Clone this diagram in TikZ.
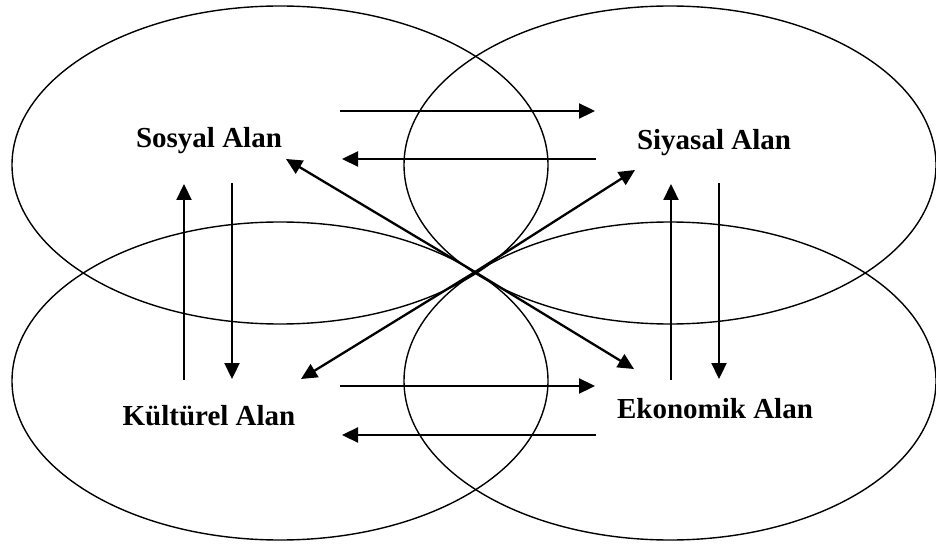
\documentclass[tikz,border=0pt]{standalone}
\usepackage{fontspec}
\setmainfont{Liberation Serif}
\usetikzlibrary{arrows.meta}
\tikzstyle{field}=[line width=1.4pt]
\tikzstyle{area}=[font=\bfseries\fontsize{29}{34}\selectfont, anchor=base, inner sep=0pt]
\tikzstyle{link}=[line width=2.3pt, -{Triangle[length=16pt, width=15pt]}]

\begin{document}
\begin{tikzpicture}[x=1pt, y=-1pt]
    \useasboundingbox (0,0) rectangle (936,545);
    % the four fields
    \draw[field] (280,165) ellipse [x radius=268pt, y radius=159pt];
    \draw[field] (670,165) ellipse [x radius=266pt, y radius=159pt];
    \draw[field] (280,381) ellipse [x radius=268pt, y radius=159pt];
    \draw[field] (670,381) ellipse [x radius=266pt, y radius=159pt];
    \node[area] (sosyal) at (209,148) {Sosyal Alan};
    \node[area] (siyasal) at (714,150) {Siyasal Alan};
    \node[area] (kulturel) at (209,425) {Kültürel Alan};
    \node[area] (ekonomik) at (715,418) {Ekonomik Alan};
    % horizontal links
    \coordinate (sa) at (340,111);
    \coordinate (sb) at (595,111);
    \coordinate (sc) at (596,159);
    \coordinate (sd) at (342,159);
    \draw[link] (sa) -- (sb);
    \draw[link] (sc) -- (sd);
    \coordinate (ka) at (340,386);
    \coordinate (kb) at (595,386);
    \coordinate (kc) at (596,435);
    \coordinate (kd) at (342,435);
    \draw[link] (ka) -- (kb);
    \draw[link] (kc) -- (kd);
    % vertical links
    \coordinate (la) at (184,380);
    \coordinate (lb) at (184,184);
    \coordinate (lc) at (232,183);
    \coordinate (ld) at (232,379);
    \draw[link] (la) -- (lb);
    \draw[link] (lc) -- (ld);
    \coordinate (ra) at (671,380);
    \coordinate (rb) at (671,184);
    \coordinate (rc) at (719,183);
    \coordinate (rd) at (719,379);
    \draw[link] (ra) -- (rb);
    \draw[link] (rc) -- (rd);
    % diagonal links
    \coordinate (mid) at (475,272);
    \coordinate (dsos) at (286,159);
    \coordinate (deko) at (634,369);
    \coordinate (dsiy) at (635,170);
    \coordinate (dkul) at (301,379);
    \draw[link] (mid) -- (dsos);
    \draw[link] (mid) -- (deko);
    \draw[link] (mid) -- (dsiy);
    \draw[link] (mid) -- (dkul);
\end{tikzpicture}
\end{document}
